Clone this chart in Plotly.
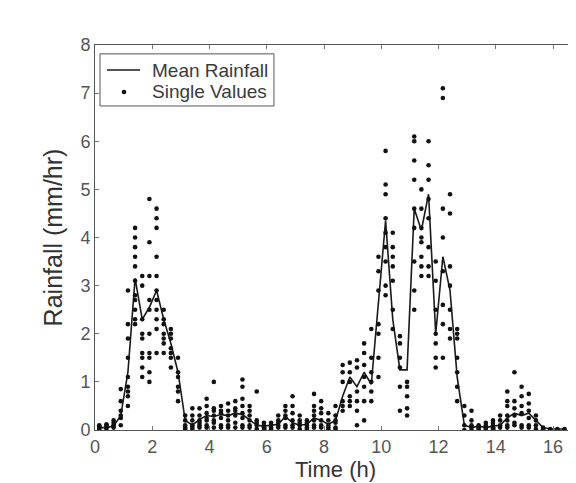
import plotly.graph_objects as go

times = [0.15, 0.40, 0.65, 0.90, 1.15, 1.40, 1.65, 1.90, 2.15, 2.40,
         2.65, 2.90, 3.15, 3.40, 3.65, 3.90, 4.15, 4.40, 4.65, 4.90,
         5.15, 5.40, 5.65, 5.90, 6.15, 6.40, 6.65, 6.90, 7.15, 7.40,
         7.65, 7.90, 8.15, 8.40, 8.65, 8.90, 9.15, 9.40, 9.65, 9.90,
         10.15, 10.40, 10.65, 10.90, 11.15, 11.40, 11.65, 11.90, 12.15, 12.40,
         12.65, 12.90, 13.15, 13.40, 13.65, 13.90, 14.15, 14.40, 14.65, 14.90,
         15.15, 15.40, 15.65, 15.90, 16.15, 16.40]

mean_rain = [0.05, 0.05, 0.08, 0.30, 1.20, 3.15, 2.30, 2.55, 2.90, 2.30,
             1.80, 1.20, 0.20, 0.10, 0.22, 0.30, 0.28, 0.32, 0.30, 0.35,
             0.32, 0.20, 0.10, 0.08, 0.10, 0.12, 0.28, 0.15, 0.10, 0.12,
             0.25, 0.20, 0.12, 0.20, 0.70, 1.10, 0.90, 1.20, 0.95, 2.60,
             4.35, 2.30, 1.25, 1.25, 4.60, 4.15, 4.90, 2.00, 3.60, 2.90,
             1.10, 0.10, 0.05, 0.08, 0.05, 0.08, 0.10, 0.25, 0.35, 0.30,
             0.35, 0.20, 0.05, 0.02, 0.02, 0.02]

single_values = [
    [0.02, 0.05, 0.08, 0.10],
    [0.03, 0.06, 0.10, 0.12],
    [0.05, 0.08, 0.10, 0.15, 0.20],
    [0.10, 0.25, 0.30, 0.40, 0.60, 0.85],
    [0.50, 0.70, 0.80, 0.90, 1.10, 1.50, 1.90, 2.20, 2.90],
    [2.20, 2.30, 2.50, 2.70, 2.80, 3.10, 3.40, 3.60, 3.80, 4.00, 4.20],
    [1.10, 1.30, 1.50, 1.60, 1.90, 2.00, 2.30, 3.00, 3.20],
    [1.00, 1.20, 1.50, 1.60, 2.00, 2.50, 2.70, 3.20, 3.90, 4.80],
    [1.60, 2.10, 2.30, 2.50, 2.70, 2.90, 3.20, 3.60, 4.20, 4.40, 4.60],
    [1.60, 1.80, 1.90, 2.00, 2.20, 2.30, 2.50],
    [1.30, 1.50, 1.60, 1.70, 1.90, 2.00, 2.10],
    [0.60, 0.80, 0.90, 1.10, 1.20, 1.50],
    [0.02, 0.05, 0.10, 0.20, 0.30],
    [0.02, 0.06, 0.10, 0.20, 0.30, 0.45],
    [0.05, 0.10, 0.15, 0.20, 0.30, 0.45],
    [0.05, 0.10, 0.20, 0.25, 0.35, 0.50, 0.65],
    [0.05, 0.15, 0.20, 0.30, 0.40, 0.45, 1.00],
    [0.05, 0.10, 0.25, 0.35, 0.40, 0.50],
    [0.05, 0.10, 0.20, 0.30, 0.40, 0.55],
    [0.05, 0.15, 0.30, 0.40, 0.45, 0.60],
    [0.05, 0.10, 0.25, 0.35, 0.50, 0.65, 0.90, 1.05],
    [0.05, 0.10, 0.20, 0.30, 0.40, 0.50],
    [0.02, 0.10, 0.15, 0.20, 0.80],
    [0.00, 0.05, 0.10, 0.15],
    [0.02, 0.05, 0.10, 0.15],
    [0.05, 0.10, 0.15, 0.20, 0.30],
    [0.05, 0.10, 0.25, 0.30, 0.40, 0.50],
    [0.05, 0.10, 0.20, 0.35, 0.50, 0.70],
    [0.02, 0.10, 0.15, 0.20, 0.30],
    [0.02, 0.05, 0.10, 0.15, 0.20],
    [0.05, 0.10, 0.20, 0.30, 0.40, 0.50, 0.75],
    [0.05, 0.10, 0.20, 0.35, 0.45, 0.60],
    [0.02, 0.05, 0.10, 0.20, 0.35],
    [0.02, 0.05, 0.15, 0.20, 0.30, 0.50],
    [0.40, 0.50, 0.60, 1.00, 1.20, 1.35],
    [0.50, 0.60, 0.70, 1.00, 1.20, 1.40],
    [0.10, 0.40, 0.60, 0.80, 1.30, 1.45],
    [0.20, 0.60, 0.90, 1.10, 1.35, 1.60, 1.80],
    [0.60, 0.80, 1.00, 1.20, 1.50, 2.10],
    [1.10, 1.50, 2.00, 2.20, 2.90, 3.30, 3.60],
    [2.80, 3.00, 3.50, 3.80, 4.10, 4.40, 4.90, 5.10, 5.80],
    [2.10, 2.50, 3.10, 3.40, 3.60, 3.80, 4.10],
    [0.40, 0.90, 1.30, 1.50, 1.80, 1.95],
    [0.30, 0.45, 0.70, 0.90, 1.00],
    [2.50, 2.90, 3.50, 4.20, 4.60, 5.20, 5.60, 6.00, 6.10],
    [3.20, 3.40, 3.60, 3.90, 4.00, 4.20, 4.60, 5.00],
    [3.20, 3.40, 3.80, 4.40, 4.80, 5.20, 5.50, 6.00],
    [1.30, 1.50, 1.80, 2.00, 2.50, 3.10, 3.50],
    [1.50, 2.20, 2.60, 3.30, 4.00, 4.60, 6.90, 7.10],
    [1.90, 2.10, 2.50, 3.00, 3.40, 4.50, 4.90],
    [0.60, 0.90, 1.20, 1.50, 1.90, 2.00, 2.10],
    [0.00, 0.10, 0.30, 0.50],
    [0.00, 0.05, 0.10, 0.20, 0.40],
    [0.02, 0.05, 0.10],
    [0.02, 0.05, 0.10, 0.15],
    [0.02, 0.05, 0.10, 0.15, 0.20],
    [0.05, 0.10, 0.20, 0.30],
    [0.05, 0.10, 0.20, 0.30, 0.50, 0.60, 0.80],
    [0.10, 0.15, 0.30, 0.45, 0.60, 1.20],
    [0.05, 0.10, 0.35, 0.50, 0.70, 0.90],
    [0.05, 0.10, 0.25, 0.40, 0.55, 0.75],
    [0.02, 0.10, 0.20, 0.30],
    [0.00, 0.02, 0.05],
    [0.00, 0.02],
    [0.00, 0.02],
    [0.00, 0.02],
]

x_ticks = [0, 2, 4, 6, 8, 10, 12, 14, 16]
y_ticks = [0, 1, 2, 3, 4, 5, 6, 7, 8]
legend_labels = ["Mean Rainfall", "Single Values"]

sx, sy = [], []
for t, vals in zip(times, single_values):
    for v in vals:
        sx.append(t)
        sy.append(v)

FONT = "Liberation Sans, Arial, sans-serif"

fig = go.Figure()
fig.add_trace(go.Scatter(
    x=times, y=mean_rain, mode="lines", name=legend_labels[0],
    line=dict(color="#1a1a1a", width=1.6), showlegend=False))
fig.add_trace(go.Scatter(
    x=sx, y=sy, mode="markers", name=legend_labels[1],
    marker=dict(color="#111111", size=4.6, symbol="circle"), showlegend=False))

# manual legend (box, line sample, dot sample, labels)
shapes = [
    dict(type="rect", xref="paper", yref="paper", x0=0.0104, x1=0.372, y0=0.8416, y1=0.977,
         line=dict(color="#555555", width=1), fillcolor="white", layer="above"),
    dict(type="line", xref="paper", yref="paper", x0=0.025, x1=0.0936, y0=0.935, y1=0.935,
         line=dict(color="#1a1a1a", width=1.6), layer="above"),
    dict(type="circle", xref="paper", yref="paper", xsizemode="pixel", ysizemode="pixel",
         xanchor=0.0603, yanchor=0.878, x0=-2.3, x1=2.3, y0=-2.3, y1=2.3,
         fillcolor="#111111", line=dict(color="#111111", width=0), layer="above"),
]
annotations = [
    dict(text=legend_labels[0], xref="paper", yref="paper", x=0.1143, y=0.935,
         xanchor="left", yanchor="middle", showarrow=False,
         font=dict(family=FONT, size=19, color="#3a3a3a")),
    dict(text=legend_labels[1], xref="paper", yref="paper", x=0.1143, y=0.878,
         xanchor="left", yanchor="middle", showarrow=False,
         font=dict(family=FONT, size=19, color="#3a3a3a")),
]

tick_font = dict(family=FONT, size=18, color="#555555")

fig.update_layout(
    width=568, height=475,
    margin=dict(l=87, r=0, t=37, b=53),
    paper_bgcolor="white", plot_bgcolor="white",
    showlegend=False,
    shapes=shapes, annotations=annotations,
    xaxis=dict(
        range=[0, 16.8], tickvals=x_ticks, ticktext=[str(v) for v in x_ticks],
        showgrid=False, zeroline=False, showline=True, linecolor="#555555", linewidth=1,
        mirror="ticks", ticks="inside", ticklen=4, tickcolor="#777777",
        tickfont=tick_font,
        title=dict(text="Time (h)", font=dict(family=FONT, size=22, color="#333333"), standoff=2),
    ),
    yaxis=dict(
        range=[0, 8], tickvals=y_ticks, ticktext=[str(v) for v in y_ticks],
        showgrid=False, zeroline=False, showline=True, linecolor="#555555", linewidth=1,
        ticks="inside", ticklen=4, tickcolor="#777777",
        tickfont=tick_font,
        title=dict(text="Rainfall (mm/hr)", font=dict(family=FONT, size=25, color="#333333"), standoff=10),
    ),
)

fig.write_html("out.html")
